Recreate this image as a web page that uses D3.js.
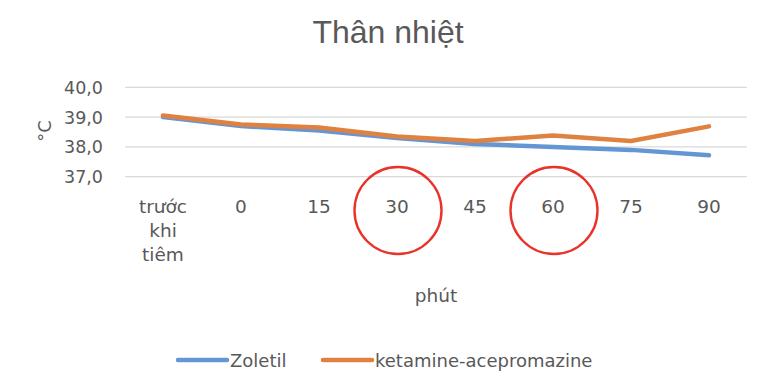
<!DOCTYPE html>
<html><head><meta charset="utf-8">
<script src="https://cdn.jsdelivr.net/npm/d3@7"></script>
<style>body{margin:0;background:#fff}text{font-family:"DejaVu Sans",sans-serif}</style>
</head><body><svg id="c" width="770" height="378"></svg>
<script>
const categories = ["trước khi tiêm","0","15","30","45","60","75","90"];
const zoletil = [39.0,38.7,38.55,38.3,38.1,38.0,37.9,37.72];
const ketamine = [39.05,38.75,38.65,38.35,38.2,38.38,38.2,38.69];
const yTicks = [37,38,39,40];
const seriesNames = ["Zoletil","ketamine-acepromazine"];
const colors = ["#6596d4","#e0823f"];
const highlighted = ["30","60"];

const svg = d3.select("#c");
const x = d3.scaleBand().domain(categories).range([124,748]);
const y = d3.scaleLinear().domain([37,40]).range([176.7,87.3]);
const grey = "#595959";

svg.append("text").attr("x",388).attr("y",43).attr("text-anchor","middle")
  .style("font-family","'Liberation Sans',Arial,sans-serif")
  .attr("font-size",32).attr("fill",grey).text("Thân nhiệt");

svg.append("g").selectAll("line").data(yTicks).join("line")
  .attr("x1",125).attr("x2",747).attr("y1",d=>y(d)).attr("y2",d=>y(d))
  .attr("stroke","#d9d9d9").attr("stroke-width",1.3);
svg.append("g").selectAll("text").data(yTicks).join("text")
  .attr("x",103).attr("y",d=>y(d)+6.5).attr("text-anchor","end")
  .attr("font-size",17.5).attr("fill",grey).text(d=>d.toFixed(1).replace(".",","));

svg.append("text").attr("transform","translate(51,131) rotate(-90)")
  .attr("text-anchor","middle").attr("font-size",18).attr("fill",grey).text("°C");

const xl = svg.append("g").selectAll("text").data(categories).join("text")
  .attr("x",d=>x(d)+x.bandwidth()/2).attr("y",212.5).attr("text-anchor","middle")
  .attr("font-size",18.5).attr("fill",grey);
xl.each(function(d){
  const words = d.split(" ");
  const t = d3.select(this);
  words.forEach((w,i)=>t.append("tspan").attr("x",x(d)+x.bandwidth()/2).attr("dy",i?24:0).text(w));
});

svg.append("text").attr("x",436).attr("y",302).attr("text-anchor","middle")
  .attr("font-size",18.5).attr("fill",grey).text("phút");

const line = d3.line().x((d,i)=>x(categories[i])+x.bandwidth()/2).y(d=>y(d));
[zoletil,ketamine].forEach((s,i)=>{
  svg.append("path").attr("d",line(s)).attr("fill","none")
    .attr("stroke",colors[i]).attr("stroke-width",4.5).attr("stroke-linecap","round").attr("stroke-linejoin","round");
});

svg.append("g").selectAll("ellipse").data(highlighted).join("ellipse")
  .attr("cx",d=>x(d)+x.bandwidth()/2+1).attr("cy",210.5).attr("rx",43.5).attr("ry",43.5)
  .attr("fill","none").attr("stroke","#e8322a").attr("stroke-width",2.4);

const lg = svg.append("g");
const lx = [176,321];
seriesNames.forEach((n,i)=>{
  lg.append("line").attr("x1",lx[i]+2).attr("x2",lx[i]+51).attr("y1",360).attr("y2",360)
    .attr("stroke",colors[i]).attr("stroke-width",4.5).attr("stroke-linecap","round");
  lg.append("text").attr("x",lx[i]+54).attr("y",366.5).attr("font-size",18).attr("fill",grey).text(n);
});
</script></body></html>
